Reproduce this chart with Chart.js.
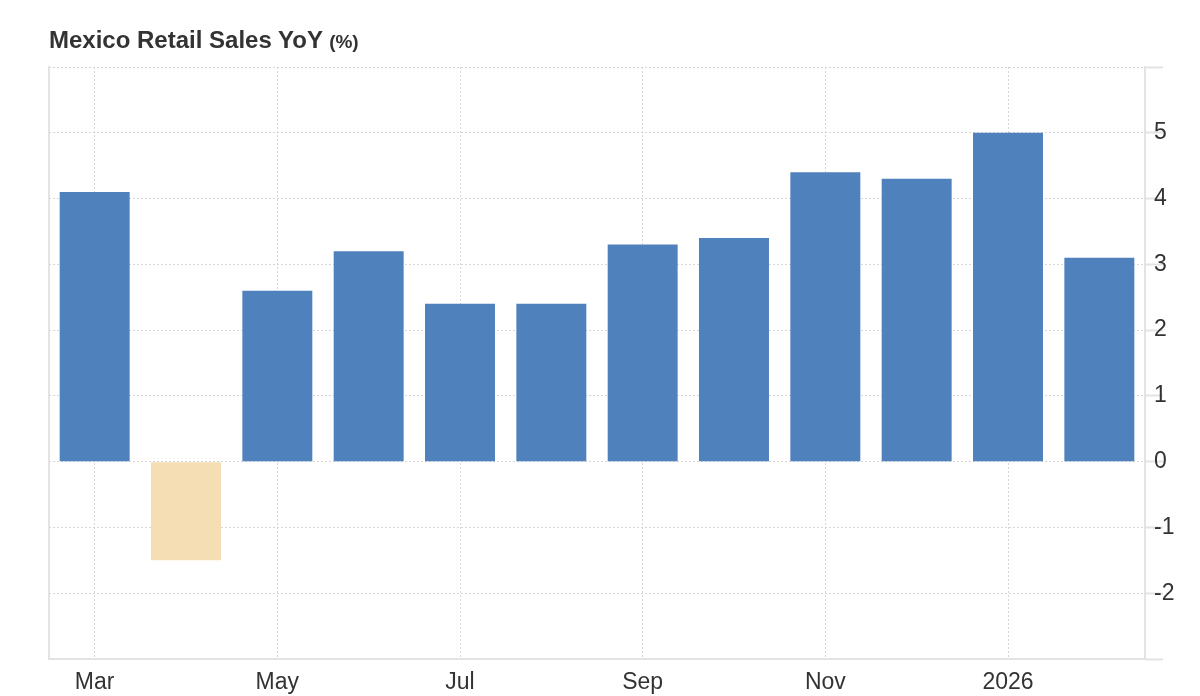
<!DOCTYPE html>
<html>
<head>
<meta charset="utf-8">
<title>Mexico Retail Sales YoY</title>
<script src="https://cdn.jsdelivr.net/npm/chart.js@4/dist/chart.umd.min.js"></script>
<style>
  body { margin: 0; background: #fff; }
  #wrap { position: relative; width: 1200px; height: 696px; }
  #title {
    position: absolute; left: 49px; top: 26px;
    font-family: "Liberation Sans", Arial, sans-serif;
    font-weight: bold; font-size: 24px; color: #333; line-height: 28px;
  }
  #title span { font-size: 19px; }
</style>
</head>
<body>
<div id="wrap">
  <div id="title">Mexico Retail Sales YoY <span>(%)</span></div>
  <canvas id="myChart" width="1200" height="696"></canvas>
</div>
<script>
// months shown on the x axis (Jan 2026 labelled as the year)
let months = ['Mar', 'Apr', 'May', 'Jun', 'Jul', 'Aug', 'Sep', 'Oct', 'Nov', 'Dec', '2026', 'Feb'];
let salesYoY = [4.1, -1.5, 2.6, 3.2, 2.4, 2.4, 3.3, 3.4, 4.4, 4.3, 5.0, 3.1];
let yMin = -3;
let yMax = 6;

let gridColor = '#d6d6d6';
let lineColor = '#e3e3e3';
let textColor = '#333';
let fontFamily = '"Liberation Sans", Arial, sans-serif';

let barColors = salesYoY.map(v => v < 0 ? '#F5DEB3' : '#4F81BD');

let ctx = document.getElementById('myChart').getContext('2d');

let salesChart = new Chart(ctx, {
    type: 'bar',
    data: {
        labels: months,
        datasets: [{
            label: 'Retail Sales YoY',
            data: salesYoY,
            backgroundColor: barColors,
            borderWidth: 0,
            barPercentage: 0.766,
            categoryPercentage: 1.0
        }]
    },
    options: {
        responsive: false,
        animation: false,
        layout: { padding: { top: 67, left: 0, right: 0, bottom: 0 } },
        plugins: {
            legend: { display: false },
            tooltip: { enabled: false }
        },
        scales: {
            x: {
                offset: true,
                grid: {
                    offset: false,
                    color: gridColor,
                    lineWidth: 1,
                    drawTicks: false
                },
                border: { display: true, color: lineColor, width: 2, dash: [2, 2] },
                ticks: {
                    autoSkip: false,
                    maxRotation: 0,
                    padding: 10,
                    color: textColor,
                    font: { family: fontFamily, size: 23 },
                    callback: function (value, index) {
                        return index % 2 === 0 ? this.getLabelForValue(value) : null;
                    }
                },
                afterFit: function (scale) { scale.height = 37; }
            },
            y: {
                position: 'right',
                min: yMin,
                max: yMax,
                grid: {
                    color: gridColor,
                    lineWidth: 1,
                    drawTicks: true,
                    tickLength: 18,
                    tickColor: lineColor,
                    tickWidth: 2,
                    tickBorderDash: []
                },
                border: { display: true, color: lineColor, width: 2, dash: [2, 2] },
                ticks: {
                    stepSize: 1,
                    padding: -9,
                    color: textColor,
                    font: { family: fontFamily, size: 23 },
                    callback: function (value) {
                        return (value === yMax || value === yMin) ? '' : value;
                    }
                },
                afterFit: function (scale) { scale.width = 55; }
            },
            yLeft: {
                position: 'left',
                min: yMin,
                max: yMax,
                grid: { display: false, drawTicks: false },
                border: { display: true, color: lineColor, width: 2 },
                ticks: { display: false },
                afterFit: function (scale) { scale.width = 49; }
            }
        }
    }
});
</script>
</body>
</html>
